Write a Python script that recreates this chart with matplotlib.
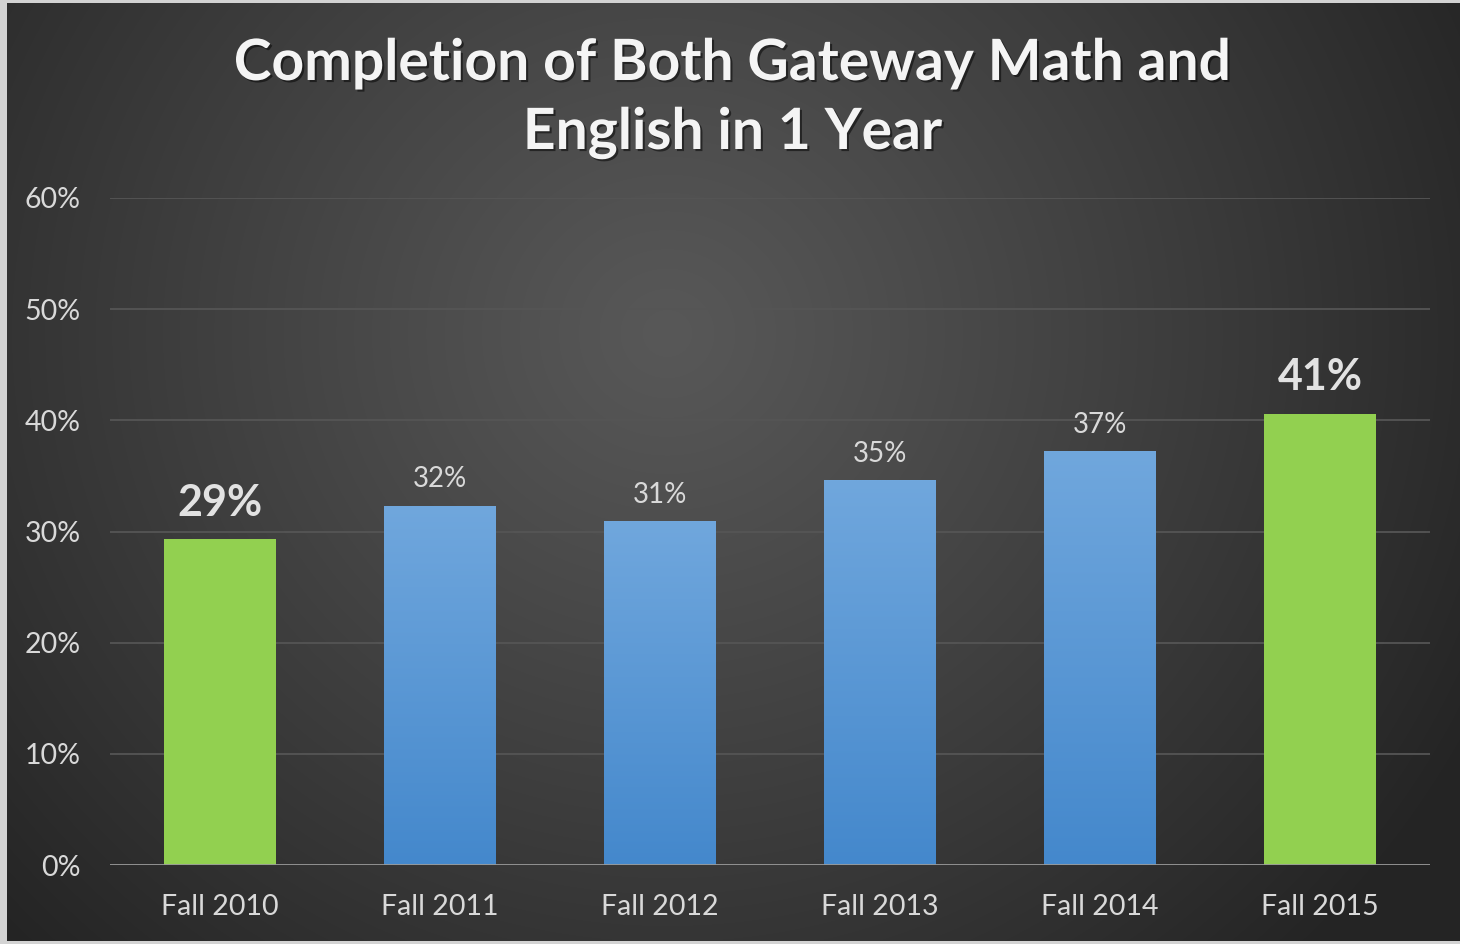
import numpy as np
import matplotlib.pyplot as plt
import matplotlib.patheffects as pe

# completion rates per cohort
cohorts = ["Fall 2010", "Fall 2011", "Fall 2012", "Fall 2013", "Fall 2014", "Fall 2015"]
rates = [29.3, 32.3, 30.9, 34.6, 37.2, 40.6]
highlight = [True, False, False, False, False, True]
yticks = [0, 10, 20, 30, 40, 50, 60]
title_lines = ["Completion of Both Gateway Math and", "English in 1 Year"]

FONT = "Lato"
W, H = 1460, 944

fig = plt.figure(figsize=(W / 100, H / 100), dpi=100)
fig.patch.set_facecolor("#d3d3d3")

# dark panel with a soft radial glow
panel = fig.add_axes([7 / W, 3 / H, (W - 7) / W, (H - 6) / H])
panel.set_axis_off()
yy, xx = np.mgrid[0:H - 6, 0:W - 7]
d = np.hypot(xx - 660, (yy - 330) * 1.05)
glow = 0.345 - 0.2 * np.clip(d / 900, 0, 1) ** 1.1
panel.imshow(np.dstack([glow] * 3), aspect="auto", interpolation="bilinear")

ax = fig.add_axes([110 / W, 1 - 865 / H, 1320 / W, (865 - 198) / H])
ax.set_facecolor("none")

for y in yticks[1:]:
    ax.axhline(y, color="#555555", lw=1.3, zorder=1)
ax.axhline(0, color="#9a9a9a", lw=2, zorder=4)

shadow = [pe.SimplePatchShadow(offset=(0, -1), shadow_rgbFace="black", alpha=0.35, rho=0.3), pe.Normal()]
blue_grad = np.linspace(0, 1, 256).reshape(-1, 1)
blue_top = np.array([112, 167, 221]) / 255
blue_bot = np.array([68, 136, 204]) / 255
blue_img = blue_bot + (blue_top - blue_bot) * blue_grad[..., None]

bars = ax.bar(range(len(cohorts)), rates, width=0.505, zorder=3,
              color=["#92d050" if h else "#5d9bd8" for h in highlight])
for bar, hl, v in zip(bars, highlight, rates):
    bar.set_path_effects(shadow)
    x0 = bar.get_x()
    if not hl:
        im = ax.imshow(blue_img, extent=(x0, x0 + bar.get_width(), 0, v),
                       origin="lower", aspect="auto", zorder=3.5)
        im.set_clip_path(bar)
    cx = x0 + bar.get_width() / 2
    if hl:
        ax.annotate(f"{v:.0f}%", (cx, v), xytext=(0, 17), textcoords="offset points",
                    ha="center", va="baseline", fontsize=31, fontweight="bold",
                    color="#e2e2e2", family=FONT)
    else:
        ax.annotate(f"{v:.0f}%", (cx, v), xytext=(0, 13.5), textcoords="offset points",
                    ha="center", va="baseline", fontsize=20,
                    color="#d9d9d9", family=FONT)

ax.set_xlim(-0.5, len(cohorts) - 0.5)
ax.set_ylim(0, 60)
ax.set_yticks(yticks)
ax.set_yticklabels([f"{t}%" for t in yticks])
ax.set_xticks(range(len(cohorts)))
ax.set_xticklabels(cohorts)
ax.tick_params(length=0, colors="#d9d9d9", labelsize=20.5)
ax.tick_params(axis="x", pad=21)
ax.tick_params(axis="y", pad=21)
for lab in ax.get_xticklabels() + ax.get_yticklabels():
    lab.set_family(FONT)
for s in ax.spines.values():
    s.set_visible(False)

title_fx = [pe.withSimplePatchShadow(offset=(1.5, -1.5), shadow_rgbFace="black", alpha=0.5)]
fig.text(733 / W, 1 - 80 / H, title_lines[0], ha="center", va="baseline", fontsize=41,
         fontweight="bold", color="#f4f4f4", family=FONT, path_effects=title_fx)
fig.text(733 / W, 1 - 149 / H, title_lines[1], ha="center", va="baseline", fontsize=41,
         fontweight="bold", color="#f4f4f4", family=FONT, path_effects=title_fx)

fig.savefig("out.png", dpi=100)
